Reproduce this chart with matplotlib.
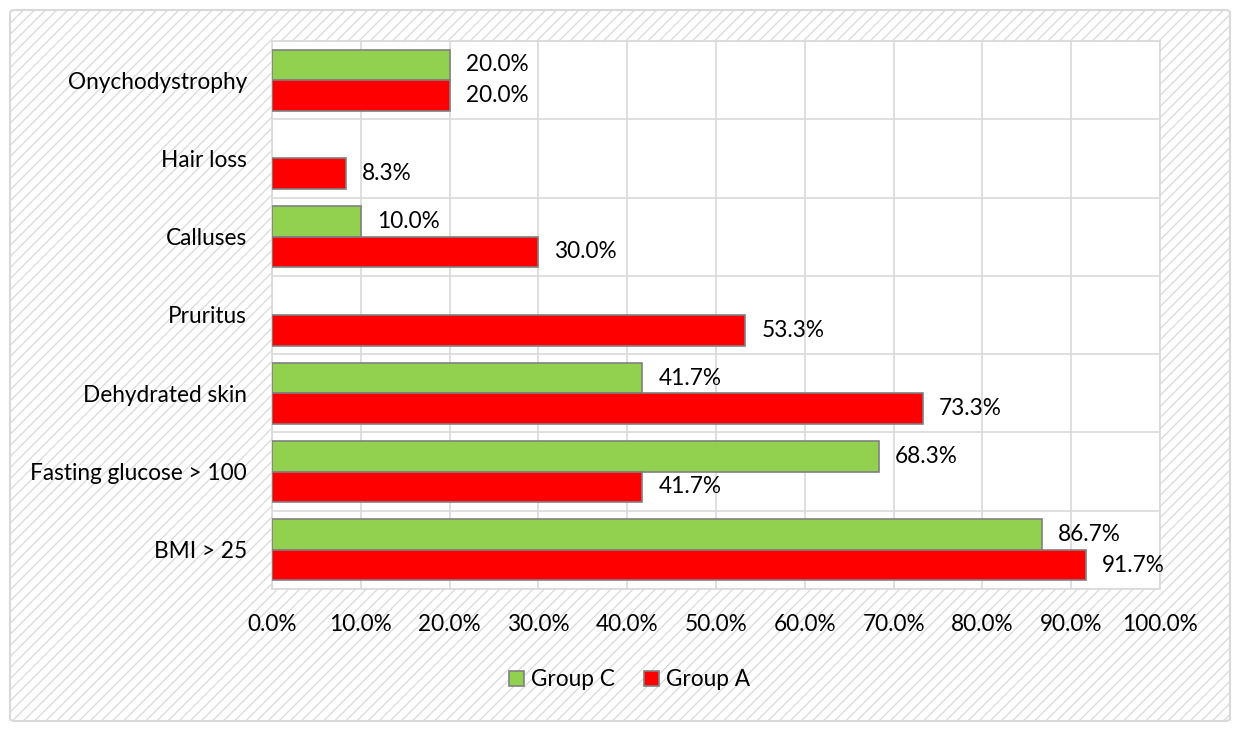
import matplotlib
matplotlib.use("Agg")
import matplotlib.pyplot as plt
import numpy as np
from matplotlib.patches import FancyBboxPatch, Patch

categories = ["Onychodystrophy", "Hair loss", "Calluses", "Pruritus",
              "Dehydrated skin", "Fasting glucose > 100", "BMI > 25"]
group_c = [20.0, None, 10.0, None, 41.7, 68.3, 86.7]
group_a = [20.0, 8.3, 30.0, 53.3, 73.3, 41.7, 91.7]
xticks = [0, 10, 20, 30, 40, 50, 60, 70, 80, 90, 100]

GREEN = "#92D050"
RED = "#FF0000"
EDGE = "#808080"
GRID = "#D9D9D9"

plt.rcParams['font.family'] = ['Lato', 'DejaVu Sans']
plt.rcParams['hatch.linewidth'] = 0.9
FS = 16.3

fig = plt.figure(figsize=(12.39, 7.3), dpi=100)
fig.patch.set_facecolor("white")

# hatched background with border
bg = FancyBboxPatch((10 / 1239, 1 - 721 / 730), 1220 / 1239, 711 / 730,
                    boxstyle="round,pad=0,rounding_size=0.004",
                    transform=fig.transFigure, facecolor="white",
                    edgecolor="#D9D9D9", hatch="///", linewidth=1.5, zorder=-5)
fig.patches.append(bg)

ax = fig.add_axes([272 / 1239, 1 - 589 / 730, (1160 - 272) / 1239, (589 - 41) / 730])
ax.set_facecolor("white")

n = len(categories)
ypos = np.arange(n)
h = 0.39

for i, (c, a) in enumerate(zip(group_c, group_a)):
    if c is not None:
        ax.barh(i - h / 2, c, height=h, color=GREEN, edgecolor=EDGE, linewidth=1.2, zorder=3)
        ax.annotate(f"{c:.1f}%", (c, i - h / 2), xytext=(11.5, 0), textcoords="offset points",
                    va="center", ha="left", fontsize=FS, color="#000000", zorder=4)
    if a is not None:
        ax.barh(i + h / 2, a, height=h, color=RED, edgecolor=EDGE, linewidth=1.2, zorder=3)
        ax.annotate(f"{a:.1f}%", (a, i + h / 2), xytext=(11.5, 0), textcoords="offset points",
                    va="center", ha="left", fontsize=FS, color="#000000", zorder=4)

ax.set_ylim(n - 0.5, -0.5)
ax.set_xlim(0, 100)
ax.set_yticks(ypos)
ax.set_yticklabels(categories, fontsize=FS)
ax.set_xticks(xticks)
ax.set_xticklabels([f"{t:.1f}%" for t in xticks], fontsize=FS)
ax.tick_params(axis="both", length=0)
ax.tick_params(axis="y", pad=18)
ax.tick_params(axis="x", pad=18)

# gridlines
for t in xticks:
    ax.axvline(t, color=GRID, linewidth=1.2, zorder=1)
for b in np.arange(-0.5, n, 1.0):
    ax.axhline(b, color=GRID, linewidth=1.2, zorder=1)
for s in ax.spines.values():
    s.set_color(GRID)
    s.set_linewidth(1.2)

handles = [Patch(facecolor=GREEN, edgecolor=EDGE, linewidth=1.2, label="Group C"),
           Patch(facecolor=RED, edgecolor=EDGE, linewidth=1.2, label="Group A")]
fig.legend(handles=handles, loc="center", bbox_to_anchor=(0.508, 1 - 680 / 730), ncol=2,
           frameon=False, fontsize=FS, handlelength=0.65, handleheight=0.65,
           handletextpad=0.3, columnspacing=1.3)

fig.savefig("out.png", dpi=100)
